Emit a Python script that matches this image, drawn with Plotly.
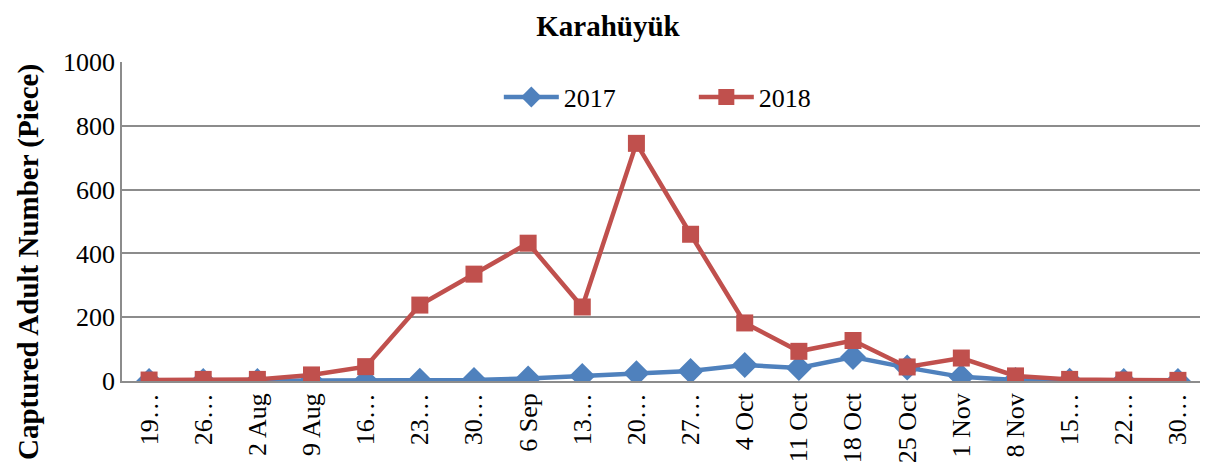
import plotly.graph_objects as go

categories = ["19…", "26…", "2 Aug", "9 Aug", "16…", "23…", "30…", "6 Sep", "13…", "20…",
              "27…", "4 Oct", "11 Oct", "18 Oct", "25 Oct", "1 Nov", "8 Nov", "15…", "22…", "30…"]
y2017 = [0, 0, 0, 0, 0, 1, 3, 8, 16, 24, 31, 50, 41, 75, 42, 13, 3, 1, 0, 0]
y2018 = [3, 5, 5, 19, 45, 238, 335, 432, 232, 745, 460, 182, 93, 127, 44, 72, 16, 5, 3, 2]

x_idx = list(range(len(categories)))

FONT = "Liberation Serif"
fig = go.Figure()
fig.add_trace(go.Scatter(x=x_idx, y=y2017, name="2017", mode="lines+markers",
                         line=dict(color="#4F81BD", width=4.5),
                         marker=dict(symbol="diamond", size=20, color="#4F81BD")))
fig.add_trace(go.Scatter(x=x_idx, y=y2018, name="2018", mode="lines+markers",
                         line=dict(color="#C0504D", width=4.5),
                         marker=dict(symbol="square", size=17, color="#C0504D")))

# page body has an 8px margin, so the figure is drawn 8px right/down
fig.update_layout(
    width=1200, height=460,
    margin=dict(l=114, r=3, t=54, b=87, autoexpand=False),
    paper_bgcolor="white", plot_bgcolor="white",
    font=dict(family=FONT, size=26, color="black"),
    title=dict(text="<b>Karahüyük</b>", x=0.5, xanchor="center", xref="container",
               y=0.962, yanchor="middle", yref="container",
               font=dict(family=FONT, size=29, color="black")),
    showlegend=True,
    legend=dict(orientation="h", x=0.528, xanchor="center", y=0.89, yanchor="middle",
                font=dict(family=FONT, size=26), bgcolor="rgba(0,0,0,0)", itemwidth=55,
                entrywidth=125),
)
fig.update_xaxes(range=[-0.5, len(categories) - 0.5], tickmode="array",
                 tickvals=x_idx, ticktext=categories, tickangle=-90,
                 showgrid=False, showline=True, linecolor="#8c8c8c", linewidth=1.5,
                 zeroline=False, automargin=False, tickfont=dict(family=FONT, size=26))
fig.update_yaxes(range=[0, 1000], dtick=200, showgrid=True, gridcolor="#8c8c8c", gridwidth=1.5,
                 showline=True, linecolor="#8c8c8c", linewidth=1.5, zeroline=False,
                 automargin=False, ticks="", ticklen=6, tickfont=dict(family=FONT, size=26))
fig.add_annotation(text="<b>Captured Adult Number (Piece)</b>", xref="paper", yref="paper",
                   x=-0.0868, y=0.373, xanchor="center", yanchor="middle", textangle=-90,
                   showarrow=False, font=dict(family=FONT, size=29, color="black"))

fig.write_html("out.html")
